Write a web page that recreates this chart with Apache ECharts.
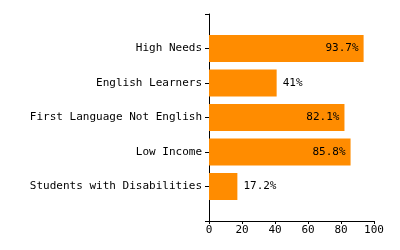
<!DOCTYPE html>
<html>
<head>
<meta charset="utf-8">
<script src="https://cdn.jsdelivr.net/npm/echarts@6/dist/echarts.min.js"></script>
<style>
html,body{margin:0;padding:0;background:#fff;}
#chart{width:400px;height:250px;}
</style>
</head>
<body>
<div id="chart"></div>
<script>
var categories = ['High Needs', 'English Learners', 'First Language Not English', 'Low Income', 'Students with Disabilities'];
var values = [93.7, 41, 82.1, 85.8, 17.2];
var xTicks = [0, 20, 40, 60, 80, 100];

var FONT = '"DejaVu Sans Mono", monospace';
var paddedCats = [''].concat(categories, ['']);
var paddedData = [null].concat(values.map(function (v) {
  return {
    value: v,
    label: {
      position: v >= 50 ? 'insideRight' : 'right',
      distance: v >= 50 ? 5 : 6
    }
  };
}), [null]);

var chart = echarts.init(document.getElementById('chart'), null, {renderer: 'canvas'});
chart.setOption({
  animation: false,
  grid: {left: 209, right: 26, top: 14, bottom: 29, containLabel: false},
  xAxis: {
    type: 'value',
    min: xTicks[0],
    max: xTicks[xTicks.length - 1],
    interval: xTicks[1] - xTicks[0],
    axisLine: {show: true, lineStyle: {color: '#000', width: 1}},
    axisTick: {show: true, length: 3, lineStyle: {color: '#000'}},
    splitLine: {show: false},
    axisLabel: {color: '#000', fontFamily: FONT, fontSize: 11, margin: 4}
  },
  yAxis: {
    type: 'category',
    data: paddedCats,
    inverse: true,
    boundaryGap: false,
    axisLine: {show: true, onZero: false, lineStyle: {color: '#000', width: 1}},
    axisTick: {show: true, length: 4, lineStyle: {color: '#000'}},
    splitLine: {show: false},
    axisLabel: {color: '#000', fontFamily: FONT, fontSize: 11, margin: 7, interval: 0}
  },
  series: [{
    type: 'bar',
    data: paddedData,
    barWidth: 27,
    itemStyle: {color: '#FF8C00'},
    label: {
      show: true,
      formatter: '{c}%',
      color: '#000',
      fontFamily: FONT,
      fontSize: 11
    }
  }]
});
</script>
</body>
</html>
